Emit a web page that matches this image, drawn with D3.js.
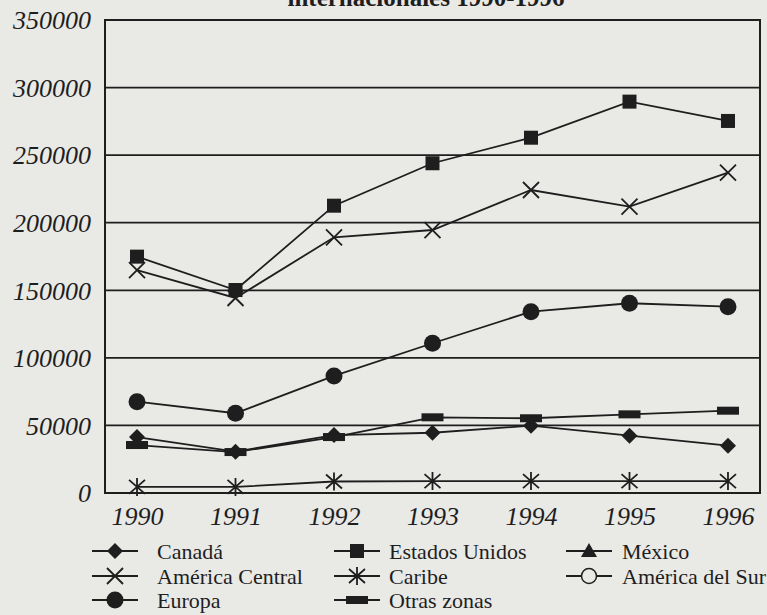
<!DOCTYPE html>
<html><head><meta charset="utf-8">
<script src="https://cdn.jsdelivr.net/npm/d3@7"></script>
<style>
html,body{margin:0;padding:0;background:#e9e9e6;}
svg{display:block;}
</style></head>
<body>
<script>
const years = ["1990","1991","1992","1993","1994","1995","1996"];
const yTicks = [0,50000,100000,150000,200000,250000,300000,350000];
const canada = [41400,30600,42900,44600,49800,42400,35000];
const estadosUnidos = [174900,150200,212600,244000,262900,289600,275300];
const mexico = [null,null,null,null,null,null,null];
const americaCentral = [165000,144300,189200,194600,224200,211900,237000];
const caribe = [4500,4500,8500,8800,8800,8800,8800];
const americaSur = [null,null,null,null,null,null,null];
const europa = [67600,59000,86600,110800,134200,140400,137900];
const otrasZonas = [35500,30300,41400,56000,55300,58200,60900];

const series = [
  {name:"Canadá", values:canada, sym:"diamond"},
  {name:"Estados Unidos", values:estadosUnidos, sym:"square"},
  {name:"México", values:mexico, sym:"triangle"},
  {name:"América Central", values:americaCentral, sym:"x"},
  {name:"Caribe", values:caribe, sym:"asterisk"},
  {name:"América del Sur", values:americaSur, sym:"opencircle"},
  {name:"Europa", values:europa, sym:"circle"},
  {name:"Otras zonas", values:otrasZonas, sym:"rect"}
];

(function(){
const W=767,H=615;
const ink="#1e1e1e";
const svg=d3.select("body").append("svg").attr("width",W).attr("height",H);
svg.append("rect").attr("width",W).attr("height",H).attr("fill","#e9e9e6");

const pL=105,pR=760,pT=20,pB=493;
const x=d3.scalePoint().domain(years).range([pL,pR]).padding(0.325);
const y=d3.scaleLinear().domain([0,350000]).range([pB,pT]);

// title (cut at top)
svg.append("text").attr("x",426).attr("y",6).attr("text-anchor","middle")
  .attr("font-family","Liberation Serif").attr("font-weight","bold").attr("font-size",25)
  .attr("fill",ink).text("internacionales 1990-1996");

// gridlines
svg.append("g").selectAll("line").data(yTicks).join("line")
  .attr("x1",pL).attr("x2",pR).attr("y1",d=>y(d)).attr("y2",d=>y(d))
  .attr("stroke",ink).attr("stroke-width",1.8);
// frame
svg.append("rect").attr("x",pL).attr("y",pT).attr("width",pR-pL).attr("height",pB-pT)
  .attr("fill","none").attr("stroke",ink).attr("stroke-width",2);

// y axis labels
const yAxis=d3.axisLeft(y).tickValues(yTicks).tickSize(0).tickPadding(14).tickFormat(d3.format("d"));
const gy=svg.append("g").attr("transform",`translate(${pL},0)`).call(yAxis);
gy.select(".domain").remove();
gy.selectAll("text").attr("font-family","Liberation Serif").attr("font-style","italic")
  .attr("font-size",26).attr("fill",ink).attr("dy","0.34em");

// x axis labels
const xAxis=d3.axisBottom(x).tickSize(0).tickPadding(14);
const gx=svg.append("g").attr("transform",`translate(0,${pB})`).call(xAxis);
gx.select(".domain").remove();
gx.selectAll("text").attr("font-family","Liberation Serif").attr("font-style","italic")
  .attr("font-size",26).attr("fill",ink).attr("dy","0.71em");

function drawMarker(g,sym){
  if(sym==="diamond"){
    g.append("path").attr("d","M0,-8L8,0L0,8L-8,0Z").attr("fill",ink);
  } else if(sym==="square"){
    g.append("rect").attr("x",-7).attr("y",-7).attr("width",14).attr("height",14).attr("fill",ink);
  } else if(sym==="triangle"){
    g.append("path").attr("d","M0,-8L8,6L-8,6Z").attr("fill",ink);
  } else if(sym==="x"){
    g.append("path").attr("d","M-8,-8L8,8M-8,8L8,-8").attr("stroke",ink).attr("stroke-width",1.8).attr("fill","none");
  } else if(sym==="asterisk"){
    g.append("path").attr("d","M-8,-7L8,7M-8,7L8,-7M0,-9L0,9").attr("stroke",ink).attr("stroke-width",1.8).attr("fill","none");
  } else if(sym==="opencircle"){
    g.append("circle").attr("r",7.5).attr("fill","#e9e9e6").attr("stroke",ink).attr("stroke-width",1.5);
  } else if(sym==="circle"){
    g.append("circle").attr("r",8.5).attr("fill",ink);
  } else if(sym==="rect"){
    g.append("rect").attr("x",-11).attr("y",-4).attr("width",22).attr("height",8).attr("fill",ink);
  }
}

const line=d3.line().defined(d=>d.v!=null).x(d=>x(d.yr)).y(d=>y(d.v));
series.forEach(s=>{
  const pts=years.map((yr,i)=>({yr,v:s.values[i]}));
  svg.append("path").datum(pts).attr("d",line).attr("fill","none")
    .attr("stroke",ink).attr("stroke-width",1.8);
  pts.filter(p=>p.v!=null).forEach(p=>{
    const g=svg.append("g").attr("transform",`translate(${x(p.yr)},${y(p.v)})`);
    drawMarker(g,s.sym);
  });
});

// legend
const cols=[{lx:92,tx:157},{lx:334,tx:389},{lx:566,tx:622}];
const rows=[551,576,600];
series.forEach((s,i)=>{
  const c=cols[i%3], r=rows[Math.floor(i/3)];
  const g=svg.append("g");
  g.append("line").attr("x1",c.lx).attr("x2",c.lx+46).attr("y1",r).attr("y2",r)
    .attr("stroke",ink).attr("stroke-width",1.8);
  const m=g.append("g").attr("transform",`translate(${c.lx+23},${r})`);
  drawMarker(m,s.sym);
  g.append("text").attr("x",c.tx).attr("y",r).attr("dy","0.35em")
    .attr("font-family","Liberation Serif").attr("font-size",22).attr("fill",ink).text(s.name);
});
})();
</script>
</body></html>
